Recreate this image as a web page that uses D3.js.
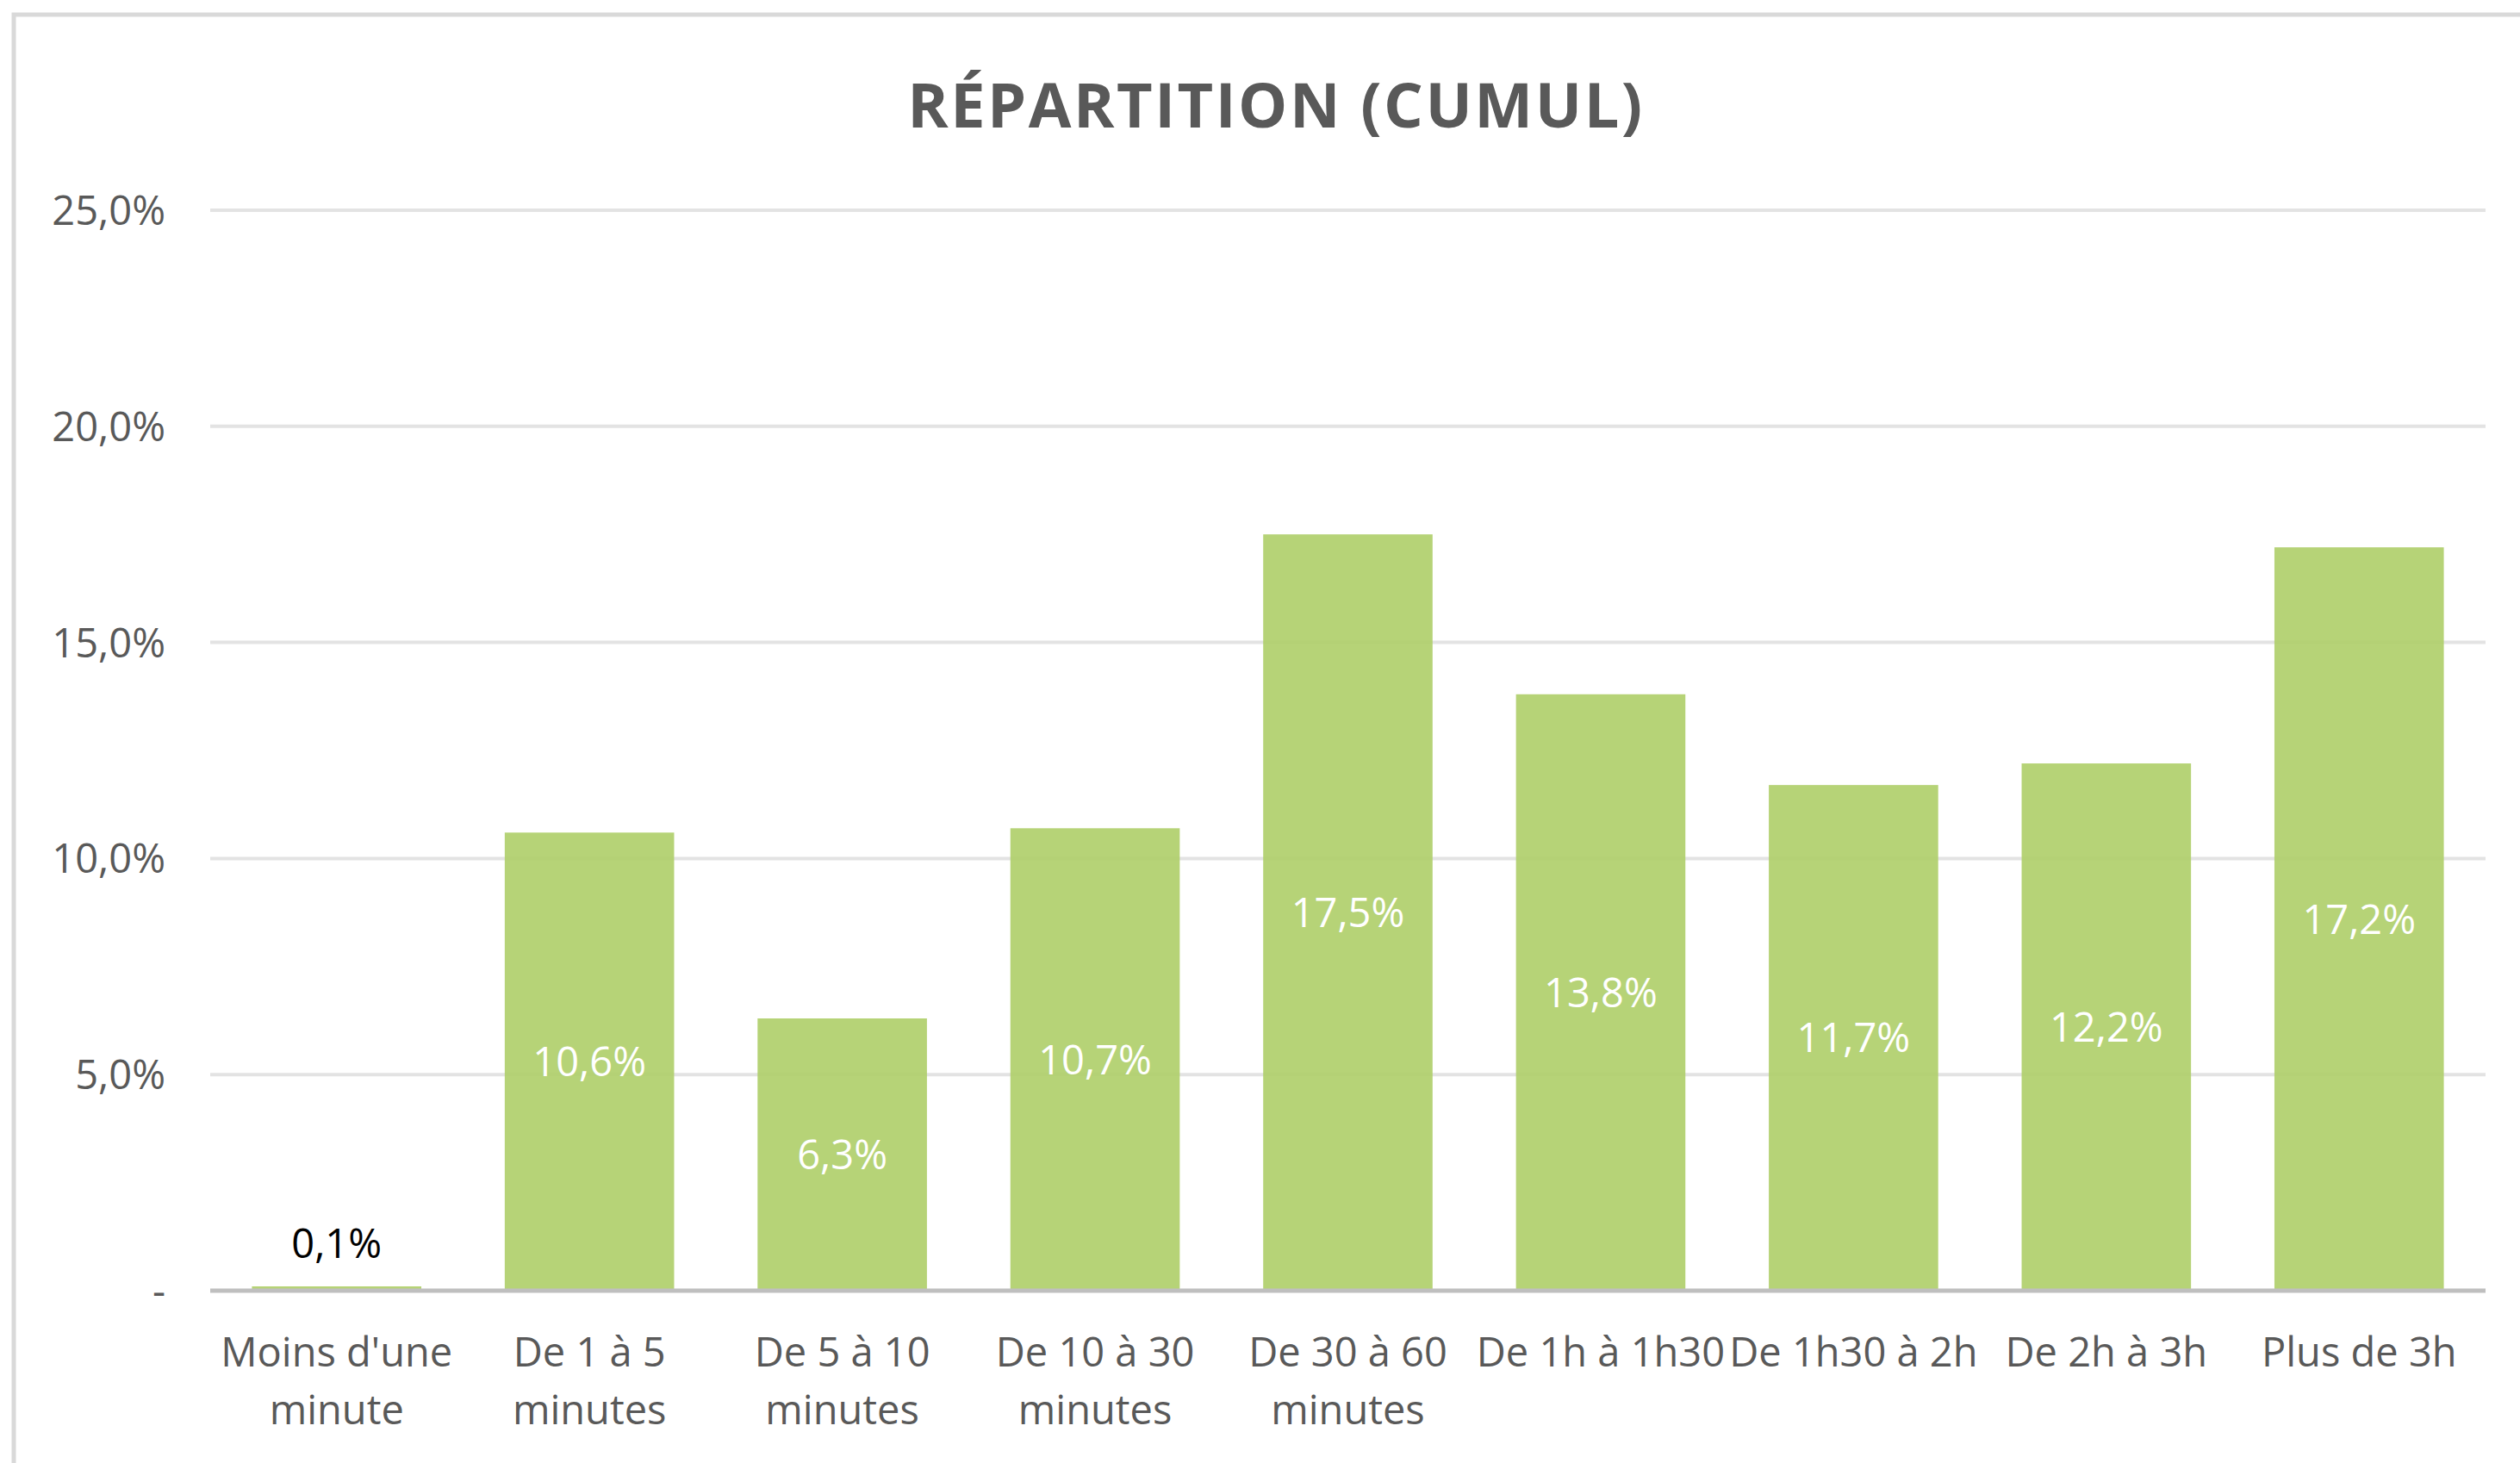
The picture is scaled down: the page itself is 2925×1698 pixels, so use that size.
<!DOCTYPE html>
<head>
  <meta charset="utf-8">
  <script src="https://d3js.org/d3.v7.min.js"></script>
  <style>
    body {
      margin: 0;
      background: #fff;
      font-family: "Open Sans", sans-serif;
    }

    .frame {
      fill: none;
      stroke: #d9d9d9;
      stroke-width: 5;
    }

    .grid line {
      stroke: #e3e3e3;
      stroke-width: 4;
    }

    .tick-label, .cat-label {
      fill: #595959;
      font-size: 47px;
    }

    .title {
      fill: #595959;
      font-size: 72px;
      font-weight: bold;
      letter-spacing: 2.5px;
    }

    .value-label {
      font-size: 47px;
    }
  </style>
</head>

<body>
  <div id="chart"></div>

  <script>
    // categories, split over the lines they wrap to
    var categories = [
      ["Moins d'une", "minute"],
      ["De 1 à 5", "minutes"],
      ["De 5 à 10", "minutes"],
      ["De 10 à 30", "minutes"],
      ["De 30 à 60", "minutes"],
      ["De 1h à 1h30"],
      ["De 1h30 à 2h"],
      ["De 2h à 3h"],
      ["Plus de 3h"]
    ];
    var values = [0.001, 0.106, 0.063, 0.107, 0.175, 0.138, 0.117, 0.122, 0.172];
    var yTicks = [0, 0.05, 0.10, 0.15, 0.20, 0.25];
    var title = "RÉPARTITION (CUMUL)";

    var width = 2925,
        height = 1698,
        plotLeft = 244,
        plotRight = 2885,
        plotTop = 244,
        plotBottom = 1498;

    var fr = d3.formatLocale({decimal: ",", thousands: " ", grouping: [3], currency: ["", " €"]});
    var pct = fr.format(".1%");

    var svg = d3.select("#chart").append("svg")
      .attr("width", width)
      .attr("height", height);

    svg.append("rect")
      .attr("class", "frame")
      .attr("x", 16)
      .attr("y", 17)
      .attr("width", 2930)
      .attr("height", 2000);

    svg.append("text")
      .attr("class", "title")
      .attr("x", 1481)
      .attr("y", 148)
      .attr("text-anchor", "middle")
      .text(title);

    var x = d3.scaleBand()
      .domain(d3.range(categories.length))
      .range([plotLeft, plotRight])
      .paddingInner(0.33)
      .paddingOuter(0.165);

    var y = d3.scaleLinear()
      .domain([0, 0.25])
      .range([plotBottom, plotTop]);

    // gridlines
    svg.append("g")
        .attr("class", "grid")
      .selectAll("line")
        .data(yTicks.filter(function(d) { return d > 0; }))
      .enter().append("line")
        .attr("x1", plotLeft)
        .attr("x2", plotRight)
        .attr("y1", function(d) { return y(d); })
        .attr("y2", function(d) { return y(d); });

    // y tick labels
    svg.append("g")
      .selectAll("text")
        .data(yTicks)
      .enter().append("text")
        .attr("class", "tick-label")
        .attr("x", 192)
        .attr("y", function(d) { return y(d); })
        .attr("dy", "0.36em")
        .attr("text-anchor", "end")
        .text(function(d) { return d === 0 ? "-" : pct(d); });

    // bars
    svg.append("g")
      .selectAll("rect")
        .data(values)
      .enter().append("rect")
        .attr("x", function(d, i) { return x(i); })
        .attr("y", function(d) { return y(d); })
        .attr("width", x.bandwidth())
        .attr("height", function(d) { return y(0) - y(d); })
        .style("fill", "#aece68")
        .style("fill-opacity", 0.9);

    // baseline
    svg.append("line")
      .attr("x1", plotLeft)
      .attr("x2", plotRight)
      .attr("y1", y(0))
      .attr("y2", y(0))
      .style("stroke", "#bfbfbf")
      .style("stroke-width", 5);

    // value labels: inside centre, or above when the bar is too small
    svg.append("g")
      .selectAll("text")
        .data(values)
      .enter().append("text")
        .attr("class", "value-label")
        .attr("x", function(d, i) { return x(i) + x.bandwidth() / 2; })
        .attr("y", function(d) {
          return d < 0.02 ? y(d) - 50 : (y(d) + y(0)) / 2;
        })
        .attr("dy", "0.36em")
        .attr("text-anchor", "middle")
        .style("fill", function(d) { return d < 0.02 ? "#000" : "#fff"; })
        .text(function(d) { return pct(d); });

    // category labels
    var cat = svg.append("g")
      .selectAll("text")
        .data(categories)
      .enter().append("text")
        .attr("class", "cat-label")
        .attr("x", function(d, i) { return x(i) + x.bandwidth() / 2; })
        .attr("y", 1569)
        .attr("text-anchor", "middle");

    cat.selectAll("tspan")
        .data(function(d) { return d; })
      .enter().append("tspan")
        .attr("x", function() { return d3.select(this.parentNode).attr("x"); })
        .attr("dy", function(d, j) { return j === 0 ? "0.36em" : "67px"; })
        .text(function(d) { return d; });
  </script>
</body>
